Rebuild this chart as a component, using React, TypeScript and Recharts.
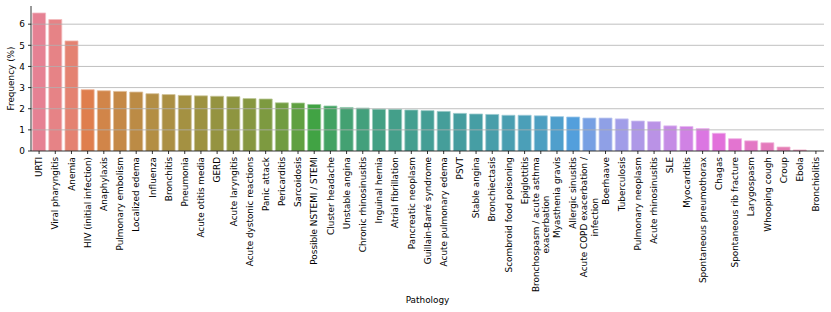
import React from 'react';
import { BarChart, Bar, XAxis, YAxis, Cell, ReferenceLine } from 'recharts';

const pathologies: string[] = [
  'URTI', 'Viral pharyngitis', 'Anemia', 'HIV (initial infection)', 'Anaphylaxis',
  'Pulmonary embolism', 'Localized edema', 'Influenza', 'Bronchitis', 'Pneumonia',
  'Acute otitis media', 'GERD', 'Acute laryngitis', 'Acute dystonic reactions', 'Panic attack',
  'Pericarditis', 'Sarcoidosis', 'Possible NSTEMI / STEMI', 'Cluster headache', 'Unstable angina',
  'Chronic rhinosinusitis', 'Inguinal hernia', 'Atrial fibrillation', 'Pancreatic neoplasm', 'Guillain-Barré syndrome',
  'Acute pulmonary edema', 'PSVT', 'Stable angina', 'Bronchiectasis', 'Scombroid food poisoning',
  'Epiglottitis', 'Bronchospasm / acute asthma\nexacerbation', 'Myasthenia gravis', 'Allergic sinusitis', 'Acute COPD exacerbation /\ninfection',
  'Boerhaave', 'Tuberculosis', 'Pulmonary neoplasm', 'Acute rhinosinusitis', 'SLE',
  'Myocarditis', 'Spontaneous pneumothorax', 'Chagas', 'Spontaneous rib fracture', 'Larygospasm',
  'Whooping cough', 'Croup', 'Ebola', 'Bronchiolitis',
];

const frequencies: number[] = [
  6.53, 6.22, 5.21, 2.90, 2.85,
  2.82, 2.79, 2.71, 2.67, 2.63,
  2.61, 2.59, 2.57, 2.48, 2.46,
  2.28, 2.27, 2.20, 2.13, 2.06,
  2.03, 1.98, 1.97, 1.94, 1.91,
  1.875, 1.78, 1.75, 1.73, 1.69,
  1.69, 1.665, 1.625, 1.61, 1.56,
  1.56, 1.52, 1.42, 1.39, 1.19,
  1.16, 1.06, 0.84, 0.58, 0.48,
  0.39, 0.19, 0.05, 0.0,
];

const yTicks: number[] = [0, 1, 2, 3, 4, 5, 6];
const gridLevels: number[] = [1, 2, 3, 4, 5, 6];
const yMax = 6.86;

const data = pathologies.map((name, i) => ({ name, value: frequencies[i] }));

const M = [
  [3.240969941904521, -1.537383177570093, -0.498610760293],
  [-0.96924363628087, 1.87596750150772, 0.041555057407175],
  [0.055630079696993, -0.20397695888897, 1.056971514242878],
];
const refU = 0.19783000664283;
const refV = 0.46831999493879;
const kappa = 903.2962962;
const epsilon = 0.0088564516;

function getBounds(L: number): [number, number][] {
  const out: [number, number][] = [];
  const sub1 = Math.pow(L + 16, 3) / 1560896;
  const sub2 = sub1 > epsilon ? sub1 : L / kappa;
  for (let c = 0; c < 3; c++) {
    const [m1, m2, m3] = M[c];
    for (let t = 0; t < 2; t++) {
      const top1 = (284517 * m1 - 94839 * m3) * sub2;
      const top2 = (838422 * m3 + 769860 * m2 + 731718 * m1) * L * sub2 - 769860 * t * L;
      const bottom = (632260 * m3 - 126452 * m2) * sub2 + 126452 * t;
      out.push([top1 / bottom, top2 / bottom]);
    }
  }
  return out;
}
function maxChroma(L: number, H: number): number {
  const hrad = (H / 360) * Math.PI * 2;
  let min = Infinity;
  for (const [slope, intercept] of getBounds(L)) {
    const len = intercept / (Math.sin(hrad) - slope * Math.cos(hrad));
    if (len >= 0 && len < min) min = len;
  }
  return min;
}
function fromLinear(c: number): number {
  return c <= 0.0031308 ? 12.92 * c : 1.055 * Math.pow(c, 1 / 2.4) - 0.055;
}
function huslToRgb(H: number, S: number, L: number): number[] {
  const C = (maxChroma(L, H) / 100) * S;
  const hr = (H / 180) * Math.PI;
  const U = Math.cos(hr) * C;
  const V = Math.sin(hr) * C;
  const varU = U / (13 * L) + refU;
  const varV = V / (13 * L) + refV;
  const Y = L <= 8 ? L / kappa : Math.pow((L + 16) / 116, 3);
  const X = 0 - (9 * Y * varU) / ((varU - 4) * varV - varU * varV);
  const Z = (9 * Y - 15 * varV * Y - varV * X) / (3 * varV);
  return M.map((row) => {
    const v = fromLinear(row[0] * X + row[1] * Y + row[2] * Z);
    return Math.min(1, Math.max(0, v));
  });
}
function rgbToHls(r: number, g: number, b: number): number[] {
  const maxc = Math.max(r, g, b);
  const minc = Math.min(r, g, b);
  const l = (minc + maxc) / 2;
  if (minc === maxc) return [0, l, 0];
  const s = l <= 0.5 ? (maxc - minc) / (maxc + minc) : (maxc - minc) / (2 - maxc - minc);
  const rc = (maxc - r) / (maxc - minc);
  const gc = (maxc - g) / (maxc - minc);
  const bc = (maxc - b) / (maxc - minc);
  let h: number;
  if (r === maxc) h = bc - gc;
  else if (g === maxc) h = 2 + rc - bc;
  else h = 4 + gc - rc;
  h = ((h / 6) % 1 + 1) % 1;
  return [h, l, s];
}
function v(m1: number, m2: number, hue: number): number {
  hue = ((hue % 1) + 1) % 1;
  if (hue < 1 / 6) return m1 + (m2 - m1) * hue * 6;
  if (hue < 0.5) return m2;
  if (hue < 2 / 3) return m1 + (m2 - m1) * (2 / 3 - hue) * 6;
  return m1;
}
function hlsToRgb(h: number, l: number, s: number): number[] {
  if (s === 0) return [l, l, l];
  const m2 = l <= 0.5 ? l * (1 + s) : l + s - l * s;
  const m1 = 2 * l - m2;
  return [v(m1, m2, h + 1 / 3), v(m1, m2, h), v(m1, m2, h - 1 / 3)];
}
function toHex(rgb: number[]): string {
  return '#' + rgb.map((c) => Math.round(Math.min(1, Math.max(0, c)) * 255).toString(16).padStart(2, '0')).join('');
}
function paletteFor(n: number): { fill: string; edge: string }[] {
  const out: { fill: string; edge: string }[] = [];
  for (let i = 0; i < n; i++) {
    const h = (((i / n) + 0.01) % 1) * 359;
    const rgb = huslToRgb(h, 0.9 * 99, 0.65 * 99);
    const [hh, ll, ss] = rgbToHls(rgb[0], rgb[1], rgb[2]);
    const fill = hlsToRgb(hh, ll, ss * 0.75);
    const edge = fill.map((c) => c + (1 - c) * 0.45);
    out.push({ fill: toHex(fill), edge: toHex(edge) });
  }
  return out;
}
const colors = paletteFor(data.length);

const FONT = 'DejaVu Sans';
const FS = 8.9;
const TXT = { fontFamily: '"DejaVu Sans"', fontSize: `${FS}px` };
let ctx: CanvasRenderingContext2D | null = null;
function measure(s: string): number {
  if (typeof document === 'undefined') return s.length * FS * 0.6;
  if (!ctx) ctx = document.createElement('canvas').getContext('2d');
  if (!ctx) return s.length * FS * 0.6;
  ctx.font = `${FS}px "${FONT}"`;
  const w = ctx.measureText(s).width;
  return w > 0 ? w : s.length * FS * 0.6;
}

const XTick = (props: any) => {
  const { x, y, payload } = props;
  const lines = String(payload.value).split('\n');
  const widths = lines.map(measure);
  const maxW = Math.max(...widths);
  const lh = FS * 1.17;
  const n = lines.length;
  return (
    <g>
      {lines.map((ln, i) => {
        const cx = x + (i - (n - 1) / 2) * lh;
        const endY = y + (maxW - widths[i]) / 2;
        return (
          <text
            key={i}
            x={0}
            y={0}
            dy="0.36em"
            transform={`translate(${cx},${endY}) rotate(-90)`}
            textAnchor="end"
            fontSize={FS}
            fontFamily={FONT}
            style={TXT}
            textLength={widths[i]}
            lengthAdjust="spacingAndGlyphs"
            fill="#000"
          >
            {ln}
          </text>
        );
      })}
    </g>
  );
};

const YTick = (props: any) => {
  const { x, y, payload } = props;
  return (
    <text x={x} y={y} dy="0.36em" textAnchor="end" fontSize={FS} fontFamily={FONT} style={TXT} fill="#000">
      {payload.value}
    </text>
  );
};

const XLabel = (props: any) => {
  const vb = props.viewBox || { x: 0, y: 0, width: 0, height: 0 };
  return (
    <text x={vb.x + vb.width / 2} y={303} textAnchor="middle" fontSize={FS} fontFamily={FONT} style={TXT} fill="#000">
      Pathology
    </text>
  );
};

const YLabel = (props: any) => {
  const vb = props.viewBox || { x: 0, y: 0, width: 0, height: 0 };
  const cy = vb.y + vb.height / 2;
  return (
    <text
      x={0}
      y={0}
      dy="0.36em"
      transform={`translate(10.7,${cy}) rotate(-90)`}
      textAnchor="middle"
      fontSize={FS}
      fontFamily={FONT}
      style={TXT}
      fill="#000"
    >
      Frequency (%)
    </text>
  );
};

export default function App() {
  return (
    <div style={{ position: 'absolute', left: 0, top: 0, width: 831, height: 312, background: '#fff', fontFamily: '"DejaVu Sans"' }}>
      <BarChart
        width={831}
        height={312}
        data={data}
        margin={{ top: 6, right: 7, left: 0, bottom: 0 }}
        barCategoryGap="10%"
        style={{ fontFamily: '"DejaVu Sans"' }}
      >
        <XAxis
          dataKey="name"
          xAxisId="main"
          height={161}
          interval={0}
          tickSize={3}
          tickMargin={3}
          tick={<XTick />}
          tickLine={{ stroke: '#000', strokeWidth: 0.8 }}
          axisLine={{ stroke: '#000', strokeWidth: 0.8 }}
          label={<XLabel />}
        />
        <XAxis
          dataKey="name"
          xAxisId="top"
          orientation="top"
          height={0}
          tick={false}
          tickLine={false}
          axisLine={{ stroke: '#000', strokeWidth: 0.8 }}
        />
        <YAxis
          yAxisId="main"
          width={31}
          domain={[0, yMax]}
          ticks={yTicks}
          allowDataOverflow
          interval={0}
          tickSize={3}
          tickMargin={3}
          tick={<YTick />}
          tickLine={{ stroke: '#000', strokeWidth: 0.8 }}
          axisLine={{ stroke: '#000', strokeWidth: 0.8 }}
          label={<YLabel />}
        />
        <YAxis
          yAxisId="right"
          orientation="right"
          width={0}
          domain={[0, yMax]}
          tick={false}
          tickLine={false}
          axisLine={{ stroke: '#000', strokeWidth: 0.8 }}
        />
        <Bar dataKey="value" xAxisId="main" yAxisId="main" isAnimationActive={false}>
          {data.map((d, i) => (
            <Cell key={d.name} fill={colors[i].fill} stroke={colors[i].edge} strokeWidth={0.8} />
          ))}
        </Bar>
        {gridLevels.map((g) => (
          <ReferenceLine key={g} y={g} xAxisId="main" yAxisId="main" stroke="#b0b0b0" strokeWidth={0.8} />
        ))}
      </BarChart>
    </div>
  );
}
